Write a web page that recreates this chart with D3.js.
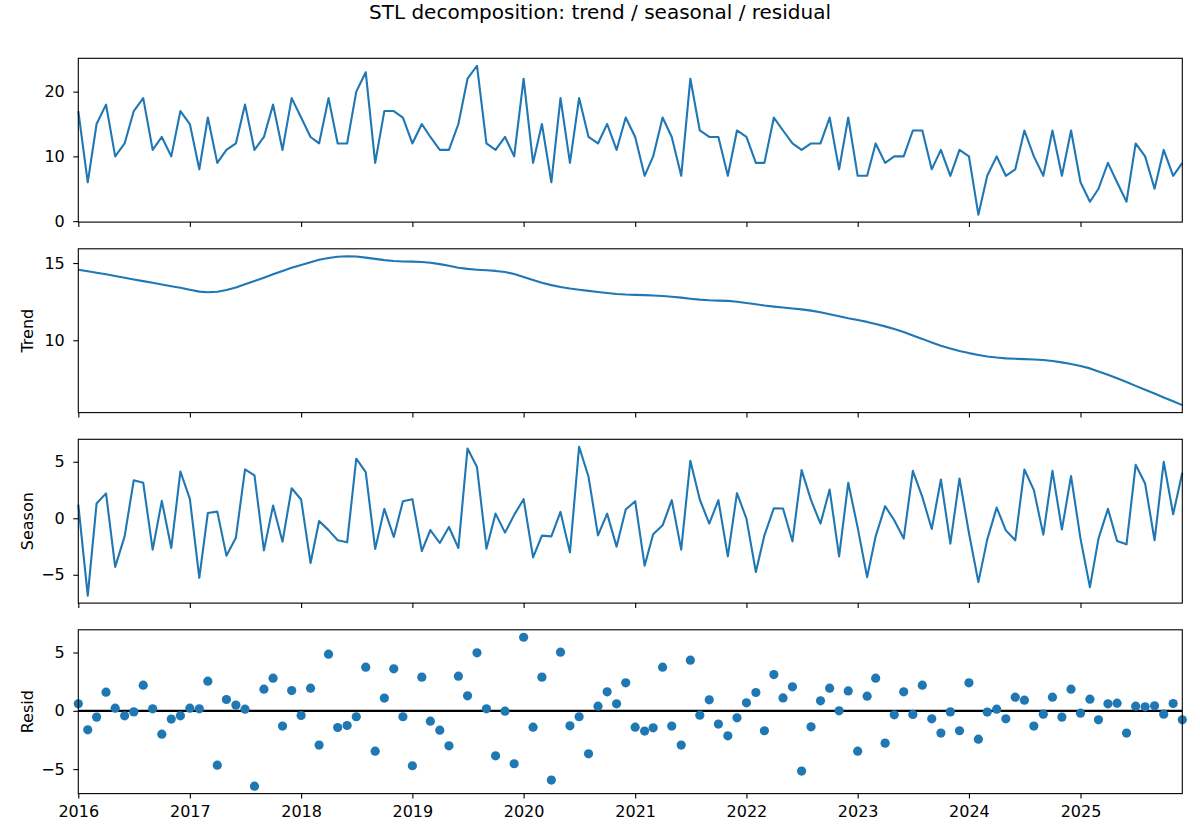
<!DOCTYPE html>
<html>
<head>
<meta charset="utf-8">
<script src="https://cdn.jsdelivr.net/npm/d3@7"></script>
<style>
  body { margin: 0; background: #fff; }
  svg { display: block; }
  text { font-family: "DejaVu Sans", sans-serif; fill: #000; }
</style>
</head>
<body>
<svg id="chart" width="1200" height="840"></svg>
<script>
// ---------------- data ----------------
const firstMonth = "2016-01-01";
const lastMonth = "2025-12-01";
const yearTicks = [2016, 2017, 2018, 2019, 2020, 2021, 2022, 2023, 2024, 2025];

const observed = [
  17, 6, 15, 18, 10, 12, 17, 19, 11, 13, 10, 17,
  15, 8, 16, 9, 11, 12, 18, 11, 13, 18, 11, 19,
  16, 13, 12, 19, 12, 12, 20, 23, 9, 17, 17, 16,
  12, 15, 13, 11, 11, 15, 22, 24, 12, 11, 13, 10,
  22, 9, 15, 6, 19, 9, 19, 13, 12, 15, 11, 16,
  13, 7, 10, 16, 13, 7, 22, 14, 13, 13, 7, 14,
  13, 9, 9, 16, 14, 12, 11, 12, 12, 16, 8, 16,
  7, 7, 12, 9, 10, 10, 14, 14, 8, 11, 7, 11,
  10, 1, 7, 10, 7, 8, 14, 10, 7, 14, 7, 14,
  6, 3, 5, 9, 6, 3, 12, 10, 5, 11, 7, 9
];

const trend = [
  14.57, 14.47, 14.37, 14.27, 14.16, 14.05, 13.94, 13.83, 13.72, 13.61, 13.50, 13.40,
  13.27, 13.15, 13.11, 13.14, 13.25, 13.42, 13.62, 13.83, 14.05, 14.27, 14.49, 14.69,
  14.88, 15.05, 15.21, 15.33, 15.41, 15.44, 15.42, 15.35, 15.27, 15.19, 15.13, 15.10,
  15.09, 15.07, 15.02, 14.93, 14.82, 14.70, 14.62, 14.57, 14.53, 14.49, 14.42, 14.29,
  14.10, 13.90, 13.72, 13.57, 13.45, 13.35, 13.27, 13.20, 13.13, 13.06, 13.00, 12.96,
  12.94, 12.92, 12.90, 12.87, 12.82, 12.76, 12.69, 12.63, 12.59, 12.57, 12.55, 12.49,
  12.41, 12.33, 12.25, 12.18, 12.12, 12.06, 12.00, 11.92, 11.81, 11.69, 11.56, 11.43,
  11.31, 11.19, 11.05, 10.90, 10.73, 10.53, 10.31, 10.09, 9.85, 9.65, 9.47, 9.31,
  9.17, 9.05, 8.95, 8.88, 8.83, 8.80, 8.78, 8.76, 8.72, 8.66, 8.57, 8.46,
  8.33, 8.18, 7.98, 7.77, 7.54, 7.30, 7.05, 6.80, 6.55, 6.30, 6.05, 5.80
];

const seasonal = [
  1.20, -6.85, 1.30, 2.20, -4.30, -1.60, 3.37, 3.14, -2.78, 1.54, -2.63, 4.14,
  1.72, -5.27, 0.47, 0.59, -3.31, -1.72, 4.32, 3.79, -2.84, 1.12, -2.07, 2.66,
  1.66, -3.96, -0.24, -1.05, -1.95, -2.13, 5.27, 4.08, -2.72, 0.83, -1.66, 1.51,
  1.69, -2.90, -1.04, -2.19, -0.77, -2.63, 6.18, 4.53, -2.69, 0.41, -1.27, 0.30,
  1.69, -3.46, -1.54, -1.60, 0.56, -3.02, 6.33, 3.67, -1.51, 0.41, -2.51, 0.77,
  1.51, -4.20, -1.42, -0.62, 1.60, -2.78, 5.09, 1.66, -0.47, 1.60, -3.37, 2.22,
  -0.03, -4.76, -1.51, 0.89, 0.86, -2.04, 4.26, 1.60, -0.47, 2.54, -3.37, 3.14,
  -0.83, -5.21, -1.60, 1.07, -0.18, -1.80, 4.20, 1.89, -0.95, 3.43, -2.25, 3.52,
  -1.30, -5.65, -1.89, 0.95, -1.07, -1.95, 4.32, 2.49, -1.45, 4.20, -1.00, 3.73,
  -1.80, -6.10, -1.80, 0.83, -2.01, -2.31, 4.73, 3.08, -1.95, 5.00, 0.36, 4.02
];

const resid = [
  0.60, -1.63, -0.54, 1.60, 0.23, -0.43, -0.09, 2.20, 0.17, -2.00, -0.71, -0.43,
  0.23, 0.17, 2.54, -4.66, 0.97, 0.49, 0.14, -6.46, 1.86, 2.80, -1.31, 1.74,
  -0.40, 1.94, -2.94, 4.86, -1.43, -1.26, -0.51, 3.74, -3.46, 1.09, 3.60, -0.51,
  -4.71, 2.89, -0.89, -1.66, -3.00, 2.97, 1.29, 4.97, 0.17, -3.86, -0.03, -4.54,
  6.31, -1.40, 2.89, -5.94, 5.03, -1.29, -0.51, -3.69, 0.40, 1.63, 0.60, 2.40,
  -1.40, -1.74, -1.46, 3.74, -1.31, -2.94, 4.34, -0.37, 0.94, -1.14, -2.14, -0.60,
  0.69, 1.57, -1.71, 3.11, 1.11, 2.06, -5.17, -1.37, 0.86, 1.94, 0.00, 1.71,
  -3.46, 1.26, 2.80, -2.77, -0.34, 1.63, -0.31, 2.20, -0.69, -1.91, -0.09, -1.71,
  2.40, -2.43, -0.11, 0.14, -0.69, 1.17, 0.91, -1.31, -0.29, 1.17, -0.54, 1.86,
  -0.20, 1.00, -0.77, 0.60, 0.66, -1.91, 0.40, 0.34, 0.43, -0.29, 0.63, -0.77
];

const titleText = "STL decomposition: trend / seasonal / residual";
const panelLabels = ["", "Trend", "Season", "Resid"];
const panelTicks = [[0, 10, 20], [10, 15], [-5, 0, 5], [-5, 0, 5]];

// ---------------- layout ----------------
const svg = d3.select("#chart");
const W = 1200;
const left = 78.3, right = 1182.3;
const panelTop = [58.3, 248.8, 439.3, 629.8];
const panelH = 163.8;
const blue = "#1f77b4";
const fontSize = 16;

const months = d3.utcMonth.range(new Date(firstMonth), d3.utcMonth.offset(new Date(lastMonth), 1));
const x = d3.scaleUtc().domain([months[0], months[months.length - 1]]).range([left, right]);

svg.append("text")
  .attr("x", W / 2).attr("y", 19)
  .attr("text-anchor", "middle")
  .style("font-size", "20px")
  .text(titleText);

const series = [observed, trend, seasonal, resid];

series.forEach((vals, p) => {
  const top = panelTop[p], bottom = top + panelH;
  const [mn, mx] = d3.extent(vals);
  const pad = (mx - mn) * 0.05;
  const y = d3.scaleLinear().domain([mn - pad, mx + pad]).range([bottom, top]);
  const g = svg.append("g");

  if (p < 3) {
    const line = d3.line().x((d, i) => x(months[i])).y(d => y(d));
    g.append("path").datum(vals)
      .attr("d", line)
      .attr("fill", "none")
      .attr("stroke", blue)
      .attr("stroke-width", 2.1)
      .attr("stroke-linejoin", "round")
      .attr("stroke-linecap", "butt");
  } else {
    g.append("line")
      .attr("x1", left).attr("x2", right)
      .attr("y1", y(0)).attr("y2", y(0))
      .attr("stroke", "#000").attr("stroke-width", 2.1);
    g.selectAll("circle").data(vals).join("circle")
      .attr("cx", (d, i) => x(months[i]))
      .attr("cy", d => y(d))
      .attr("r", 4.6)
      .attr("fill", blue);
  }

  // y axis
  const ya = d3.axisLeft(y).tickValues(panelTicks[p]).tickSize(5).tickPadding(8.5)
    .tickFormat(d3.format("d"));
  const yg = g.append("g").attr("transform", `translate(${left},0)`).call(ya);
  yg.select(".domain").remove();
  yg.selectAll("line").attr("stroke", "#000").attr("stroke-width", 1.1);
  yg.selectAll("text").style("font-size", fontSize + "px").attr("fill", "#000");

  // x axis
  const xa = d3.axisBottom(x)
    .tickValues(yearTicks.map(yr => new Date(Date.UTC(yr, 0, 1))))
    .tickSize(5).tickPadding(7)
    .tickFormat(p === 3 ? d3.utcFormat("%Y") : () => "");
  const xg = g.append("g").attr("transform", `translate(0,${bottom})`).call(xa);
  xg.select(".domain").remove();
  xg.selectAll("line").attr("stroke", "#000").attr("stroke-width", 1.1);
  xg.selectAll("text").style("font-size", fontSize + "px").attr("fill", "#000");

  // frame
  g.append("rect")
    .attr("x", left).attr("y", top)
    .attr("width", right - left).attr("height", panelH)
    .attr("fill", "none").attr("stroke", "#000").attr("stroke-width", 1.1);

  if (panelLabels[p]) {
    g.append("text")
      .attr("transform", `translate(32.5,${top + panelH / 2}) rotate(-90)`)
      .attr("text-anchor", "middle")
      .style("font-size", fontSize + "px")
      .text(panelLabels[p]);
  }
});
</script>
</body>
</html>
